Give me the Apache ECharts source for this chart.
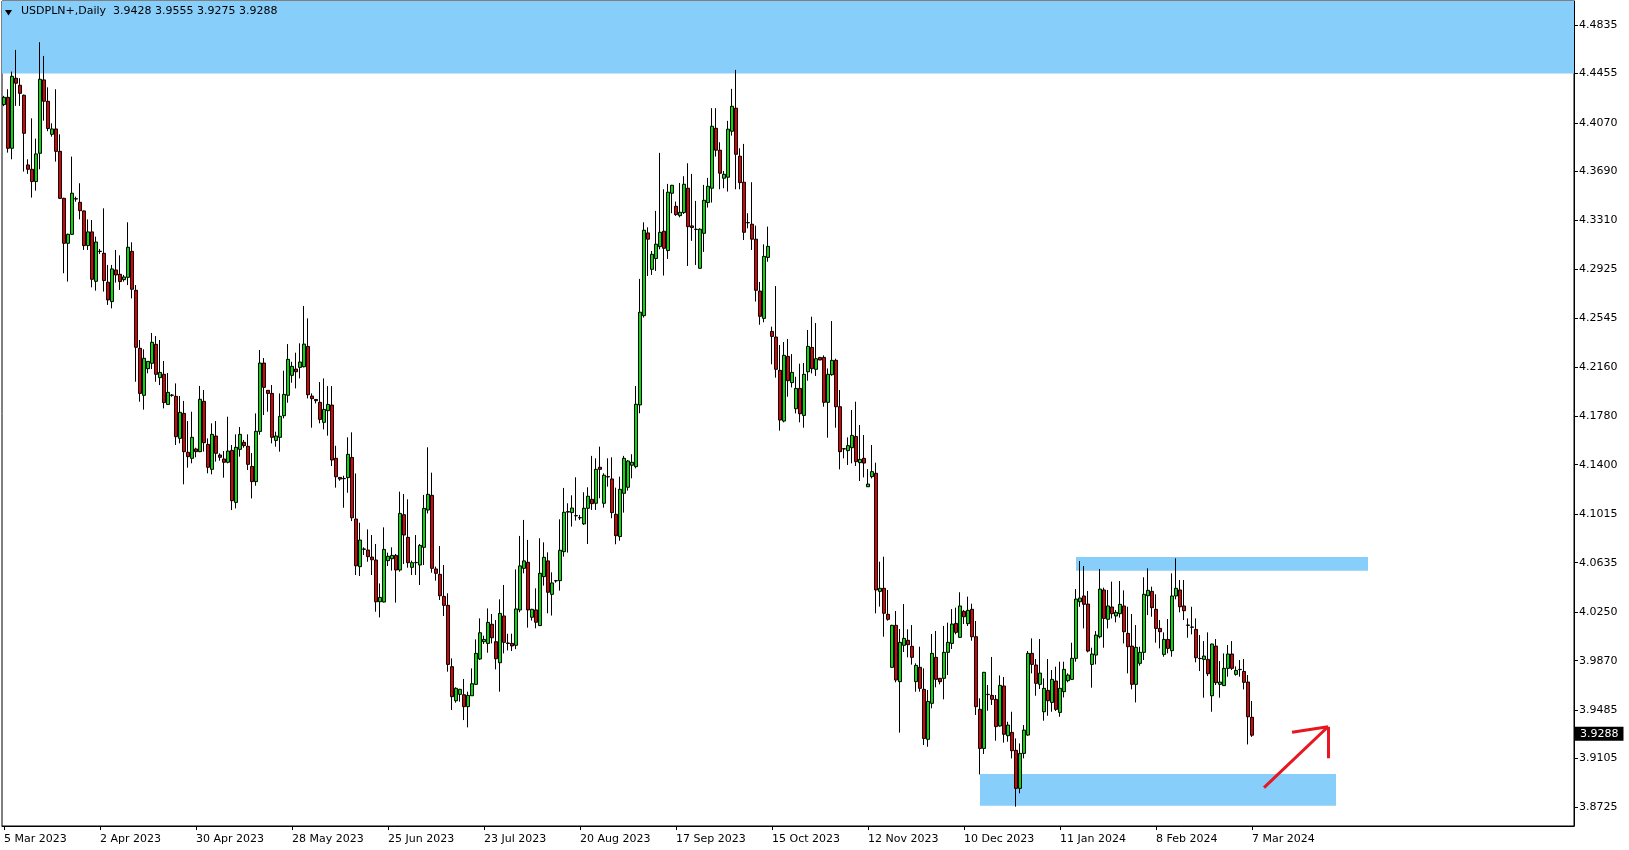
<!DOCTYPE html>
<html>
<head>
<meta charset="utf-8">
<script src="https://cdn.jsdelivr.net/npm/echarts@6/dist/echarts.min.js"></script>
<style>
html,body{margin:0;padding:0;background:#fff;}
#chart{width:1629px;height:850px;}
</style>
</head>
<body>
<div id="chart"></div>
<script>
// ---- data (USDPLN+, Daily) ----
const xTickLabels = ['5 Mar 2023','2 Apr 2023','30 Apr 2023','28 May 2023','25 Jun 2023','23 Jul 2023','20 Aug 2023','17 Sep 2023','15 Oct 2023','12 Nov 2023','10 Dec 2023','11 Jan 2024','8 Feb 2024','7 Mar 2024'];
const yTickLabels = ['4.4835','4.4455','4.4070','4.3690','4.3310','4.2925','4.2545','4.2160','4.1780','4.1400','4.1015','4.0635','4.0250','3.9870','3.9485','3.9105','3.8725'];

const open = [4.4212,4.4269,4.3871,4.4418,4.4363,4.4285,4.3741,4.3707,4.3611,4.3832,4.4405,4.4238,4.3980,4.4022,4.3847,4.3480,4.3129,4.3199,4.3475,4.3449,
4.3382,4.3111,4.3218,4.2832,4.3067,4.3051,4.2825,4.2674,4.2921,4.2887,4.2845,4.2863,4.3066,4.2762,4.2309,4.1942,4.2150,4.2192,4.2340,4.2080,
4.2106,4.1871,4.1944,4.1934,4.1606,4.1801,4.1497,4.1450,4.1523,4.1502,4.1895,4.1559,4.1364,4.1624,4.1476,4.1445,4.1419,4.1512,4.1106,4.1520,
4.1575,4.1544,4.1387,4.1268,4.1660,4.2194,4.1981,4.1957,4.1590,4.1614,4.1783,4.1942,4.2098,4.2147,4.2160,4.2165,4.2324,4.1936,4.1910,4.1887,
4.1731,4.1822,4.1866,4.1450,4.1301,4.1293,4.1299,4.1457,4.0976,4.0604,4.0742,4.0734,4.0679,4.0656,4.0330,4.0328,4.0651,4.0666,4.0692,4.0578,
4.1010,4.0833,4.0599,4.0635,4.0617,4.0755,4.1046,4.1161,4.0586,4.0544,4.0372,4.0302,3.9823,3.9557,3.9607,3.9604,3.9511,3.9596,3.9685,3.9883,
4.0018,4.0005,4.0154,4.0018,3.9854,4.0219,4.0008,4.0005,3.9990,4.0266,4.0591,4.0638,4.0209,4.0266,4.0144,4.0526,4.0649,4.0388,4.0495,4.0495,
4.0721,4.1034,4.1026,4.1003,4.0987,4.0938,4.1060,4.1130,4.1099,4.1380,4.1099,4.1307,4.1289,4.1013,4.0839,4.1177,4.1224,4.1396,4.1385,4.1867,
4.2564,4.3210,4.2926,4.3010,4.3103,4.3223,4.3072,4.3520,4.3418,4.3345,4.3369,4.3559,4.3265,4.3239,4.2934,4.3207,4.3447,4.3559,4.4027,4.3856,
4.3637,4.3645,4.4004,4.4184,4.3809,4.3606,4.3291,4.3278,4.3161,4.2756,4.2543,4.3019,4.2441,4.2397,4.2137,4.1741,4.2246,4.2041,4.1837,4.1996,
4.1785,4.2126,4.2316,4.2145,4.2238,4.2238,4.1887,4.2103,4.2215,4.1853,4.1525,4.1510,4.1533,4.1621,4.1416,4.1450,4.1228,4.1307,4.1333,4.0411,
4.0435,4.0232,3.9818,4.0146,3.9706,3.9990,4.0029,3.9982,3.9706,3.9818,3.9646,3.9256,3.9537,3.9896,3.9732,3.9732,3.9935,4.0005,4.0161,4.0052,
4.0255,4.0159,4.0271,4.0057,3.9490,3.9185,3.9607,3.9599,3.9568,3.9360,3.9672,3.9284,3.9310,3.9170,3.8873,3.9146,3.9289,3.9927,3.9836,3.9685,
3.9471,3.9638,3.9544,3.9711,3.9466,3.9628,3.9714,3.9724,3.9888,4.0330,4.0375,4.0312,3.9841,3.9914,4.0057,4.0422,4.0193,4.0289,4.0219,4.0237,
4.0297,4.0083,3.9984,3.9685,3.9849,3.9935,4.0377,4.0411,4.0271,4.0122,3.9919,4.0036,3.9948,4.0375,4.0422,4.0297,4.0148,4.0133,4.0114,3.9888,
3.9880,3.9880,3.9596,3.9984,3.9685,3.9675,3.9810,3.9922,3.9763,3.9802,3.9786,3.9703,3.9428];

const close = [4.4269,4.3871,4.4433,4.4379,4.4300,4.3988,4.3707,4.3611,4.3827,4.4410,4.4238,4.4025,4.4022,4.3847,4.3480,4.3129,4.3199,4.3520,4.3477,4.3384,
4.3111,4.3218,4.2848,4.3139,4.3065,4.2838,4.2687,4.2929,4.2882,4.2830,4.2866,4.3098,4.2770,4.2317,4.1957,4.2231,4.2207,4.2356,4.2106,4.2121,
4.1885,4.1965,4.1942,4.1619,4.1809,4.1502,4.1463,4.1614,4.1502,4.1911,4.1572,4.1380,4.1637,4.1489,4.1458,4.1419,4.1507,4.1119,4.1536,4.1637,
4.1549,4.1403,4.1268,4.1661,4.2194,4.2004,4.1957,4.1614,4.1624,4.1778,4.1949,4.2223,4.2168,4.2126,4.2202,4.2342,4.1947,4.1916,4.1900,4.1754,
4.1832,4.1871,4.1437,4.1306,4.1288,4.1291,4.1481,4.0986,4.0611,4.0812,4.0740,4.0682,4.0658,4.0330,4.0364,4.0739,4.0685,4.0692,4.0578,4.1020,
4.0851,4.0635,4.0635,4.0637,4.0770,4.1059,4.1169,4.0591,4.0552,4.0377,4.0302,3.9841,3.9589,3.9654,3.9646,3.9511,3.9599,3.9690,3.9927,4.0088,
4.0036,4.0169,4.0049,3.9885,4.0239,4.0013,4.0004,3.9985,4.0274,4.0610,4.0649,4.0266,4.0271,4.0170,4.0552,4.0677,4.0404,4.0477,4.0493,4.0732,
4.1029,4.1030,4.1062,4.1001,4.0985,4.1060,4.1154,4.1096,4.1364,4.1364,4.1318,4.1305,4.1026,4.0846,4.1208,4.1450,4.1429,4.1419,4.1872,4.2591,
4.3231,4.3161,4.3043,4.3122,4.3215,4.3090,4.3528,4.3582,4.3353,4.3371,4.3590,4.3259,4.3252,4.3237,4.3239,4.3465,4.3574,4.4043,4.3856,4.3676,
4.3668,4.4020,4.4199,4.3824,4.3603,4.3215,4.3289,4.3161,4.2762,4.2559,4.3027,4.3105,4.2402,4.2145,4.1749,4.2254,4.2056,4.2121,4.1996,4.1798,
4.2106,4.2324,4.2150,4.2228,4.2218,4.1887,4.2106,4.2215,4.1853,4.1502,4.1523,4.1549,4.1629,4.1424,4.1442,4.1413,4.1249,4.1346,4.0422,4.0435,
4.0240,4.0193,4.0146,3.9719,4.0013,4.0044,3.9995,3.9896,3.9833,3.9654,3.9263,3.9552,3.9927,3.9724,3.9706,3.9935,4.0013,4.0156,4.0091,4.0297,
4.0213,4.0263,4.0057,3.9511,3.9185,3.9779,3.9605,3.9568,3.9355,3.9677,3.9295,3.9367,3.9167,3.8873,3.9146,3.9328,3.9927,3.9841,3.9693,3.9773,
3.9654,3.9557,3.9724,3.9490,3.9654,3.9802,3.9758,3.9888,4.0351,4.0359,4.0310,3.9945,3.9922,4.0070,4.0429,4.0200,4.0297,4.0237,4.0247,4.0310,
4.0096,3.9979,3.9685,3.9974,3.9935,4.0388,4.0419,4.0284,4.0122,4.0096,4.0036,3.9966,4.0375,4.0435,4.0291,4.0260,4.0146,4.0131,3.9893,3.9886,
3.9906,3.9768,4.0000,3.9698,3.9703,3.9810,3.9922,3.9810,3.9794,3.9800,3.9701,3.9432,3.9288];

const low = [4.4200,4.3837,4.3785,4.4202,4.4202,4.3689,4.3671,4.3486,4.3540,4.3707,4.4087,4.4004,4.3962,4.3767,4.3475,4.2895,4.2830,4.3195,4.3454,4.3316,
4.3077,4.3077,4.2785,4.2759,4.3046,4.2752,4.2648,4.2621,4.2822,4.2765,4.2830,4.2803,4.2699,4.2048,4.1892,4.1830,4.2114,4.2147,4.2048,4.2022,
4.1840,4.1868,4.1931,4.1554,4.1567,4.1247,4.1377,4.1411,4.1458,4.1498,4.1502,4.1333,4.1325,4.1424,4.1432,4.1299,4.1411,4.1046,4.1059,4.1463,
4.1533,4.1359,4.1137,4.1236,4.1634,4.1788,4.1814,4.1567,4.1541,4.1502,4.1762,4.1884,4.2040,4.1996,4.2074,4.2160,4.1918,4.1689,4.1879,4.1723,
4.1676,4.1627,4.1390,4.1221,4.1275,4.1064,4.1181,4.0960,4.0539,4.0531,4.0695,4.0643,4.0539,4.0252,4.0208,4.0325,4.0609,4.0573,4.0323,4.0565,
4.0625,4.0596,4.0539,4.0539,4.0461,4.0617,4.1020,4.0557,4.0495,4.0344,4.0219,3.9784,3.9485,3.9542,3.9550,3.9406,3.9349,3.9594,3.9683,3.9875,
4.0000,3.9932,4.0005,3.9802,3.9628,3.9927,3.9950,3.9945,3.9960,4.0248,4.0552,4.0128,4.0183,4.0123,4.0140,4.0456,4.0240,4.0222,4.0479,4.0417,
4.0682,4.0714,4.0917,4.0964,4.0969,4.0930,4.0781,4.1047,4.1047,4.1138,4.1065,4.1229,4.0982,4.0779,4.0807,4.1026,4.1198,4.1294,4.1372,4.1802,
4.2549,4.2874,4.2882,4.2913,4.3082,4.2877,4.3007,4.3364,4.3343,4.3332,4.3358,4.2952,4.3148,4.2960,4.2930,4.3062,4.3408,4.3447,4.3806,4.3551,
4.3559,4.3533,4.3970,4.3551,4.3551,4.3155,4.3246,4.3077,4.2674,4.2493,4.2512,4.2985,4.2184,4.2080,4.1666,4.1731,4.1931,4.2004,4.1801,4.1731,
4.1689,4.2056,4.2113,4.2093,4.2216,4.1853,4.1611,4.2095,4.1689,4.1364,4.1450,4.1398,4.1411,4.1390,4.1273,4.1301,4.1226,4.1293,4.0240,4.0292,
4.0057,4.0182,3.9815,3.9701,3.9308,3.9938,3.9896,3.9839,3.9628,3.9628,3.9211,3.9198,3.9498,3.9662,3.9685,3.9568,3.9758,3.9961,4.0076,4.0049,
4.0156,4.0141,4.0026,3.9446,3.8982,3.9141,3.9479,3.9524,3.9245,3.9355,3.9230,3.9237,3.9107,3.8730,3.8834,3.9107,3.9284,3.9771,3.9596,3.9649,
3.9401,3.9440,3.9471,3.9477,3.9432,3.9583,3.9701,3.9719,3.9862,4.0291,4.0122,3.9935,3.9659,3.9841,4.0044,3.9971,4.0122,4.0200,4.0169,4.0206,
4.0005,3.9771,3.9646,3.9544,3.9831,3.9875,4.0226,4.0213,4.0010,3.9966,3.9901,3.9927,3.9901,4.0349,4.0247,4.0187,4.0049,4.0075,3.9857,3.9789,
3.9581,3.9750,3.9471,3.9680,3.9581,3.9672,3.9745,3.9797,3.9753,3.9745,3.9646,3.9216,3.9275];

const high = [4.4280,4.4332,4.4470,4.4639,4.4418,4.4290,4.3785,4.4105,4.3946,4.4699,4.4592,4.4347,4.4066,4.4332,4.3980,4.3485,4.3205,4.3806,4.3493,4.3598,
4.3385,4.3316,4.3311,4.3181,4.3085,4.3402,4.2960,4.2960,4.3077,4.3035,4.2882,4.3293,4.3137,4.2803,4.2374,4.2301,4.2210,4.2429,4.2405,4.2374,
4.2210,4.2116,4.1952,4.2035,4.1937,4.1898,4.1741,4.1814,4.1533,4.2015,4.1983,4.1606,4.1723,4.1741,4.1489,4.1507,4.1775,4.1554,4.1637,4.1694,
4.1593,4.1637,4.1491,4.1801,4.2296,4.2233,4.1983,4.2022,4.1658,4.1957,4.2134,4.2342,4.2204,4.2275,4.2348,4.2639,4.2543,4.1957,4.1912,4.2046,
4.2074,4.2014,4.2014,4.1548,4.1303,4.1314,4.1614,4.1653,4.1332,4.0947,4.0755,4.0895,4.0851,4.0781,4.0473,4.0911,4.0713,4.0755,4.0703,4.1190,
4.1171,4.1130,4.0651,4.0851,4.0781,4.1164,4.1536,4.1338,4.0604,4.0765,4.0617,4.0396,3.9888,3.9662,3.9650,3.9727,3.9628,3.9810,4.0036,4.0200,
4.0065,4.0278,4.0234,4.0187,4.0349,4.0461,4.0080,4.0081,4.0583,4.0844,4.0969,4.0813,4.0275,4.0435,4.0826,4.0794,4.0716,4.0560,4.0500,4.0974,
4.1219,4.1099,4.1161,4.1302,4.1008,4.1185,4.1224,4.1469,4.1450,4.1541,4.1333,4.1450,4.1458,4.1221,4.1307,4.1469,4.1437,4.1482,4.2015,4.2851,
4.3293,4.3254,4.3069,4.3382,4.3835,4.3551,4.3593,4.3585,4.3455,4.3600,4.3653,4.3754,4.3671,4.3460,4.3246,4.3585,4.3640,4.4184,4.4184,4.3918,
4.3694,4.4085,4.4335,4.4483,4.3871,4.3905,4.3364,4.3606,4.3267,4.2827,4.3121,4.3259,4.2478,4.2795,4.2335,4.2358,4.2382,4.2264,4.2087,4.2189,
4.2194,4.2452,4.2556,4.2506,4.2240,4.2254,4.2152,4.2522,4.2228,4.1983,4.1530,4.1614,4.1827,4.1892,4.1710,4.1632,4.1366,4.1554,4.1416,4.0643,
4.0682,4.0422,4.0150,4.0258,4.0117,4.0312,4.0115,4.0148,3.9849,3.9979,3.9810,3.9641,4.0078,4.0102,3.9735,4.0141,4.0167,4.0273,4.0284,4.0404,
4.0266,4.0370,4.0315,4.0180,3.9576,3.9782,3.9680,3.9899,3.9602,3.9755,3.9742,3.9393,3.9471,3.9263,3.9224,3.9367,3.9945,4.0044,3.9883,4.0039,
3.9732,3.9883,3.9797,3.9823,3.9862,3.9862,3.9771,4.0010,4.0429,4.0648,4.0609,4.0414,3.9971,4.0101,4.0586,4.0440,4.0422,4.0487,4.0265,4.0492,
4.0419,4.0291,4.0234,4.0148,3.9979,4.0521,4.0591,4.0448,4.0388,4.0187,4.0091,4.0195,4.0552,4.0669,4.0500,4.0500,4.0200,4.0291,4.0200,4.0070,
4.0023,4.0091,4.0003,4.0039,3.9867,3.9927,3.9992,4.0023,3.9825,3.9875,3.9883,3.9758,3.9555];

// zones drawn on the chart: [fromBar, toBar, lowPrice, highPrice]
const topZoneLow = 4.4454;
const resistanceZone = [268, 341, 4.0573, 4.0680];
const supportZone = [244, 333, 3.8737, 3.8985];
// red arrow annotation: segments [[bar, price], [bar, price]]
const arrowSegments = [
  [[315, 3.8878], [331, 3.9354]],
  [[322, 3.9311], [331, 3.9354]],
  [[331, 3.9354], [331, 3.9108]]
];
const lastPrice = 3.9288;
const header = 'USDPLN+,Daily  3.9428 3.9555 3.9275 3.9288';

const SLOTS = 393;
const categories = Array.from({length: SLOTS}, (_, i) => String(i));
const candles = open.map((o, i) => [o, close[i], low[i], high[i]]);
const yTickValues = yTickLabels.map(Number);
const isLabelBar = (idx) => idx % 24 === 0 && idx / 24 < xTickLabels.length;

const FONT = 'DejaVu Sans';
const chart = echarts.init(document.getElementById('chart'), null, {renderer: 'canvas'});
chart.setOption({
  animation: false,
  backgroundColor: '#ffffff',
  grid: {left: 2, top: 1, width: 1572, height: 825, show: true, borderColor: '#000', borderWidth: 1, backgroundColor: 'transparent'},
  xAxis: {
    type: 'category',
    data: categories,
    boundaryGap: true,
    axisLine: {show: true, lineStyle: {color: '#000', width: 1}},
    axisTick: {show: true, alignWithLabel: true, interval: (idx) => isLabelBar(idx), length: 4, lineStyle: {color: '#000'}},
    axisLabel: {
      show: true, interval: (idx) => isLabelBar(idx), align: 'left', margin: 8,
      fontFamily: FONT, fontSize: 11, color: '#000',
      formatter: (v, idx) => isLabelBar(idx) ? xTickLabels[idx / 24] : ''
    },
    splitLine: {show: false}
  },
  yAxis: {
    type: 'value',
    position: 'right',
    min: 3.8579,
    max: 4.5021,
    axisLine: {show: true, lineStyle: {color: '#000', width: 1}},
    axisTick: {show: true, customValues: yTickValues, length: 4, lineStyle: {color: '#000'}},
    axisLabel: {show: true, customValues: yTickValues, margin: 5, fontFamily: FONT, fontSize: 11, color: '#000',
      formatter: (v) => Number(v).toFixed(4)},
    splitLine: {show: false}
  },
  series: [
    {
      type: 'candlestick',
      name: 'USDPLN+',
      data: candles,
      barWidth: 3,
      z: 2,
      itemStyle: {
        color: '#00e000', color0: '#e00000',
        borderColor: '#000', borderColor0: '#000', borderColorDoji: '#000', borderWidth: 1
      },
      markArea: {
        silent: true,
        itemStyle: {color: '#87cefa'},
        label: {show: false},
        data: [
          [{yAxis: topZoneLow}, {yAxis: 4.5021}],
          [{xAxis: resistanceZone[0], yAxis: resistanceZone[2]}, {xAxis: resistanceZone[1], yAxis: resistanceZone[3]}],
          [{xAxis: supportZone[0], yAxis: supportZone[2]}, {xAxis: supportZone[1], yAxis: supportZone[3]}]
        ]
      },
      markLine: {
        silent: true,
        symbol: ['none', 'none'],
        animation: false,
        data: [
          {yAxis: lastPrice, lineStyle: {color: 'rgba(0,0,0,0)', width: 0},
           label: {show: true, position: 'end', distance: 1, formatter: lastPrice.toFixed(4),
             backgroundColor: '#000', color: '#fff', padding: [2, 5, 1, 5], fontFamily: FONT, fontSize: 11}}
        ].concat(arrowSegments.map(seg => [
          {coord: seg[0], lineStyle: {color: '#e8161e', width: 3, type: 'solid'}, label: {show: false}},
          {coord: seg[1]}
        ]))
      }
    }
  ],
  graphic: [
    {type: 'polygon', shape: {points: [[5, 10], [12, 10], [8.5, 15.5]]}, style: {fill: '#000'}, z: 100},
    {type: 'text', left: 21, top: 6, style: {text: header, font: '11px "DejaVu Sans"', fill: '#000'}, z: 100}
  ]
});
</script>
</body>
</html>
